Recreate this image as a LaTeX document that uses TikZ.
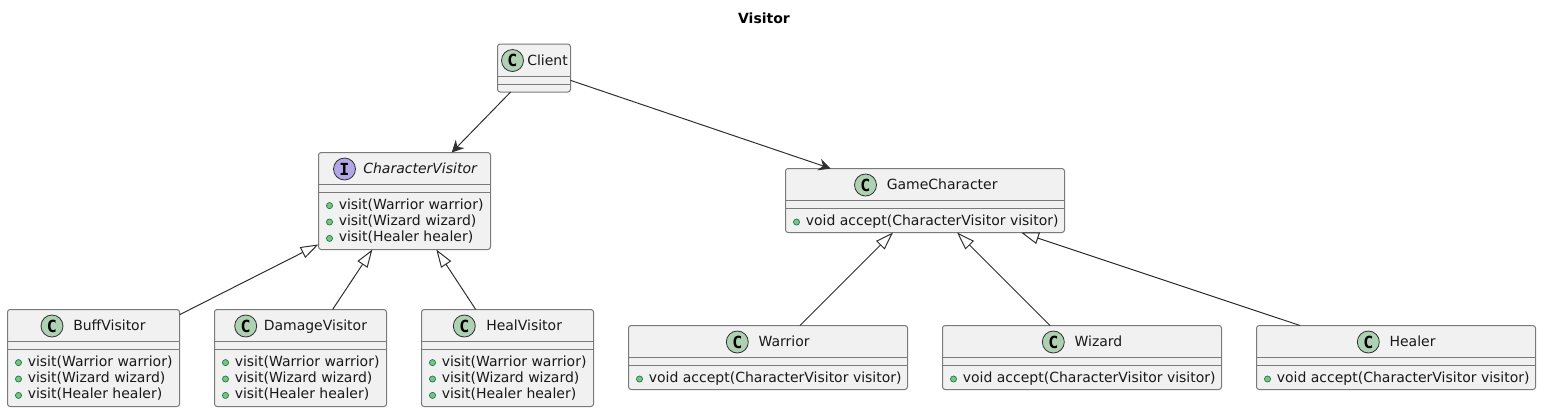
\documentclass[tikz,border=0pt]{standalone}
\usepackage{fontspec}
\setmainfont{DejaVu Sans}
\newfontfamily\spotfont{DejaVu Sans Mono}
\usetikzlibrary{arrows.meta}
\definecolor{classfill}{HTML}{F1F1F1}
\definecolor{classline}{HTML}{7A7A7A}
\definecolor{linkline}{HTML}{303030}
\definecolor{spotc}{HTML}{ADD1B2}
\definecolor{spoti}{HTML}{B4A7E5}
\definecolor{bulletfill}{HTML}{84BE84}
\definecolor{bulletline}{HTML}{038048}

\begin{document}
\begin{tikzpicture}[x=0.75pt, y=-0.75pt, font=\fontsize{10.5pt}{12pt}\selectfont]
    \tikzset{classbox/.style={draw=classline, fill=classfill, line width=0.75pt, rounded corners=2pt, inner sep=0pt, outer sep=0pt}}
    \tikzset{spot/.style={circle, draw=linkline, line width=0.6pt, minimum size=16.5pt, inner sep=0pt, font=\spotfont\bfseries\fontsize{12.5pt}{12.5pt}\selectfont}}
    \tikzset{bullet/.style={circle, draw=bulletline, fill=bulletfill, line width=0.5pt, minimum size=4.6pt, inner sep=0pt}}
    \tikzset{label/.style={anchor=base west, inner sep=0pt, text=black!90}}
    \tikzset{uses/.style={draw=linkline, line width=0.75pt, -{Stealth[length=9pt, width=9pt, inset=3pt]}}}
    \tikzset{extends/.style={draw=linkline, line width=0.75pt, {Triangle[open, length=13.5pt, width=9pt, fill=white]}-}}
    \useasboundingbox (0, 0) rectangle (1541, 412);
    \node[font=\bfseries\fontsize{10.5pt}{12pt}\selectfont, inner sep=0pt] (title) at (764, 18) {Visitor};
    % boxes of the classes with no member
    \foreach \nm/\x/\y/\w/\h/\sx/\tx/\txt in {client/497.5/44/73/48/512.5/527/Client} {
        \node[classbox, minimum width=\w*0.75pt, minimum height=\h*0.75pt] (\nm) at (\x+\w/2, \y+\h/2) {};
        \draw[classline, line width=0.75pt] (\x, \y+32) -- (\x+\w, \y+32);
        \draw[classline, line width=0.75pt] (\x, \y+40) -- (\x+\w, \y+40);
        \node[spot, fill=spotc] (\nm-spot) at (\sx, \y+16.5) {C};
        \node[label] (\nm-name) at (\tx, \y+21) {\txt};
    }
    % visitors
    \foreach \nm/\x/\y/\sx/\tx/\spotfill/\sym/\txt in {charvisitor/318.5/152.5/344.5/363/spoti/I/\itshape CharacterVisitor,
            buff/7.5/309.5/52/73/spotc/C/BuffVisitor,
            damage/214.5/309.5/245.7/263.5/spotc/C/DamageVisitor,
            heal/421.5/309.5/464.3/486/spotc/C/HealVisitor} {
        \node[classbox, minimum width=172*0.75pt, minimum height=97*0.75pt] (\nm) at (\x+86, \y+48.5) {};
        \draw[classline, line width=0.75pt] (\x, \y+32) -- (\x+172, \y+32);
        \draw[classline, line width=0.75pt] (\x, \y+40) -- (\x+172, \y+40);
        \node[spot, fill=\spotfill] (\nm-spot) at (\sx, \y+16.5) {\sym};
        \node[label] (\nm-name) at (\tx, \y+21) {\txt};
        \foreach \mem [count=\i] in {visit(Warrior warrior), visit(Wizard wizard), visit(Healer healer)} {
            \node[bullet] (\nm-dot\i) at (\x+11, \y+36.7+16.4*\i) {};
            \node[label] (\nm-mem\i) at (\x+20, \y+40.2+16.4*\i) {\mem};
        }
    }
    % characters
    \foreach \nm/\x/\y/\sx/\tx/\txt in {gamechar/785.5/168.5/865.5/886.5/GameCharacter,
            warrior/628.5/325.5/737.3/758.3/Warrior,
            wizard/942.5/325.5/1053.3/1074.3/Wizard,
            healer/1256.5/325.5/1368.3/1389.3/Healer} {
        \node[classbox, minimum width=279*0.75pt, minimum height=64*0.75pt] (\nm) at (\x+139.5, \y+32) {};
        \draw[classline, line width=0.75pt] (\x, \y+32) -- (\x+279, \y+32);
        \draw[classline, line width=0.75pt] (\x, \y+40) -- (\x+279, \y+40);
        \node[spot, fill=spotc] (\nm-spot) at (\sx, \y+16.5) {C};
        \node[label] (\nm-name) at (\tx, \y+21) {\txt};
        \node[bullet] (\nm-dot) at (\x+11, \y+53.5) {};
        \node[label] (\nm-mem) at (\x+20, \y+56.8) {void accept(CharacterVisitor visitor)};
    }
    % links
    \draw[uses] (client) -- (charvisitor);
    \draw[uses] (client) -- (gamechar);
    \foreach \nm in {buff, damage, heal} {
        \draw[extends] (charvisitor) -- (\nm);
    }
    \foreach \nm in {warrior, wizard, healer} {
        \draw[extends] (gamechar) -- (\nm);
    }
\end{tikzpicture}
\end{document}
